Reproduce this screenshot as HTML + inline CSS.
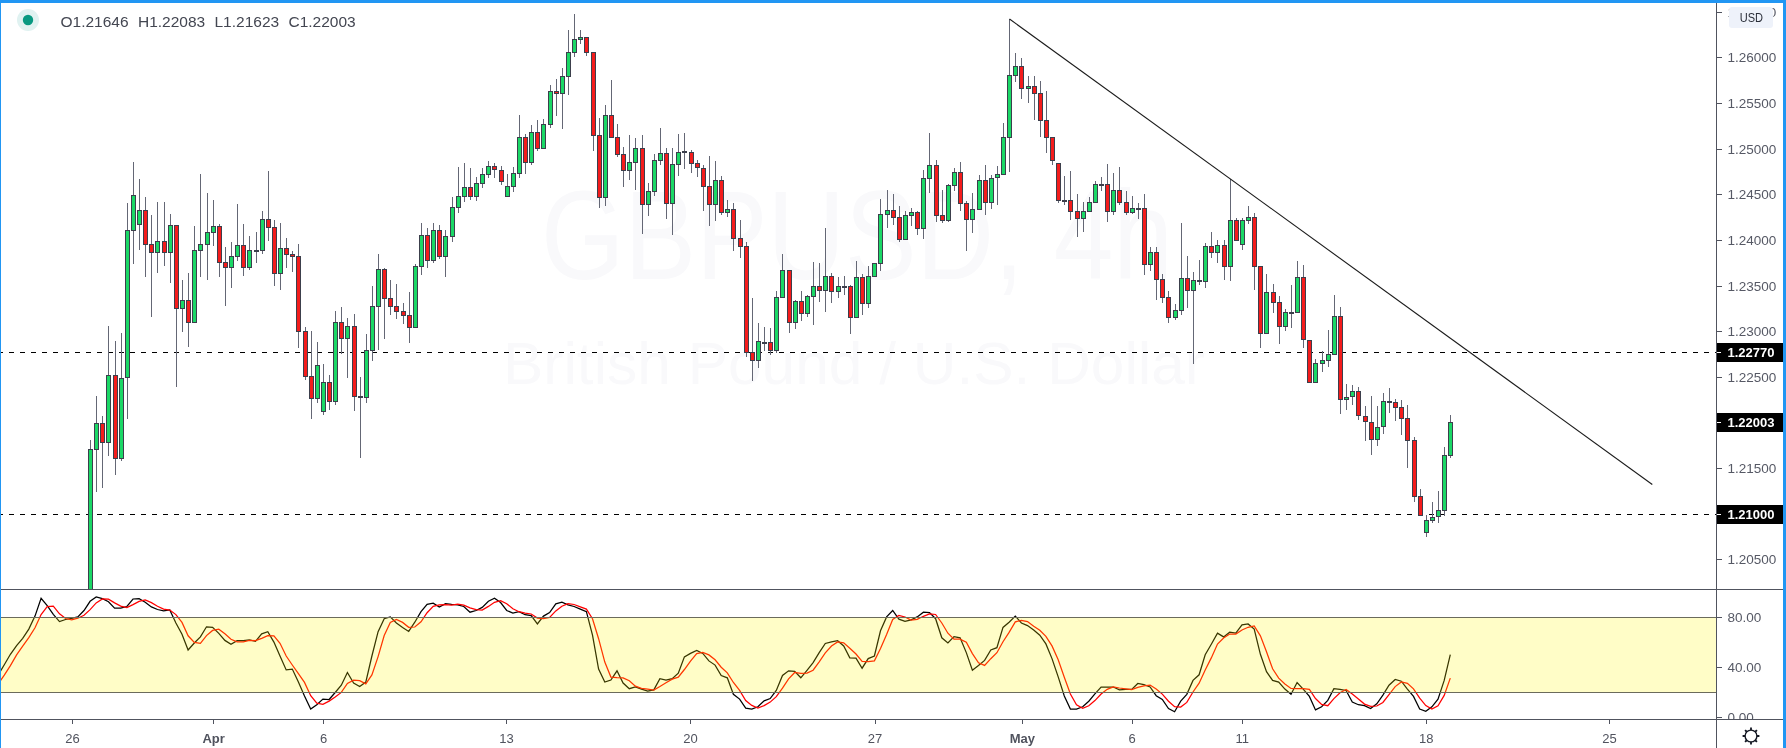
<!DOCTYPE html>
<html><head><meta charset="utf-8"><style>
html,body{margin:0;padding:0;background:#fff;}
body{width:1786px;height:748px;overflow:hidden;position:relative;}
svg{position:absolute;left:0;top:0;will-change:transform;}
text{font-family:"Liberation Sans",sans-serif;}
</style></head><body>
<svg width="1786" height="748" viewBox="0 0 1786 748">
<defs>
<clipPath id="cm"><rect x="1" y="3" width="1715" height="586"/></clipPath>
<clipPath id="ci"><rect x="1" y="590" width="1715" height="129"/></clipPath>
<clipPath id="cpa"><rect x="1717" y="3" width="66" height="586"/></clipPath>
<clipPath id="cpi"><rect x="1717" y="590" width="66" height="129"/></clipPath>
</defs>
<rect x="0" y="0" width="1786" height="748" fill="#ffffff"/>

<g clip-path="url(#cm)">
<text x="541" y="279" font-size="126" fill="#f9f9fb" textLength="632" lengthAdjust="spacingAndGlyphs">GBPUSD, 4h</text>
<text x="503" y="384" font-size="60" fill="#f9f9fb" textLength="702" lengthAdjust="spacingAndGlyphs">British Pound / U.S. Dollar</text>
<path d="M-2 352.5h5M-2 514.5h5M9 352.5h5M9 514.5h5M20 352.5h5M20 514.5h5M31 352.5h5M31 514.5h5M42 352.5h5M42 514.5h5M53 352.5h5M53 514.5h5M64 352.5h5M64 514.5h5M75 352.5h5M75 514.5h5M86 352.5h5M86 514.5h5M97 352.5h5M97 514.5h5M108 352.5h5M108 514.5h5M119 352.5h5M119 514.5h5M130 352.5h5M130 514.5h5M141 352.5h5M141 514.5h5M152 352.5h5M152 514.5h5M163 352.5h5M163 514.5h5M174 352.5h5M174 514.5h5M185 352.5h5M185 514.5h5M196 352.5h5M196 514.5h5M207 352.5h5M207 514.5h5M218 352.5h5M218 514.5h5M229 352.5h5M229 514.5h5M240 352.5h5M240 514.5h5M251 352.5h5M251 514.5h5M262 352.5h5M262 514.5h5M273 352.5h5M273 514.5h5M284 352.5h5M284 514.5h5M295 352.5h5M295 514.5h5M306 352.5h5M306 514.5h5M317 352.5h5M317 514.5h5M328 352.5h5M328 514.5h5M339 352.5h5M339 514.5h5M350 352.5h5M350 514.5h5M361 352.5h5M361 514.5h5M372 352.5h5M372 514.5h5M383 352.5h5M383 514.5h5M394 352.5h5M394 514.5h5M405 352.5h5M405 514.5h5M416 352.5h5M416 514.5h5M427 352.5h5M427 514.5h5M438 352.5h5M438 514.5h5M449 352.5h5M449 514.5h5M460 352.5h5M460 514.5h5M471 352.5h5M471 514.5h5M482 352.5h5M482 514.5h5M493 352.5h5M493 514.5h5M504 352.5h5M504 514.5h5M515 352.5h5M515 514.5h5M526 352.5h5M526 514.5h5M537 352.5h5M537 514.5h5M548 352.5h5M548 514.5h5M559 352.5h5M559 514.5h5M570 352.5h5M570 514.5h5M581 352.5h5M581 514.5h5M592 352.5h5M592 514.5h5M603 352.5h5M603 514.5h5M614 352.5h5M614 514.5h5M625 352.5h5M625 514.5h5M636 352.5h5M636 514.5h5M647 352.5h5M647 514.5h5M658 352.5h5M658 514.5h5M669 352.5h5M669 514.5h5M680 352.5h5M680 514.5h5M691 352.5h5M691 514.5h5M702 352.5h5M702 514.5h5M713 352.5h5M713 514.5h5M724 352.5h5M724 514.5h5M735 352.5h5M735 514.5h5M746 352.5h5M746 514.5h5M757 352.5h5M757 514.5h5M768 352.5h5M768 514.5h5M779 352.5h5M779 514.5h5M790 352.5h5M790 514.5h5M801 352.5h5M801 514.5h5M812 352.5h5M812 514.5h5M823 352.5h5M823 514.5h5M835 352.5h5M835 514.5h5M846 352.5h5M846 514.5h5M857 352.5h5M857 514.5h5M868 352.5h5M868 514.5h5M879 352.5h5M879 514.5h5M890 352.5h5M890 514.5h5M901 352.5h5M901 514.5h5M912 352.5h5M912 514.5h5M923 352.5h5M923 514.5h5M934 352.5h5M934 514.5h5M945 352.5h5M945 514.5h5M956 352.5h5M956 514.5h5M967 352.5h5M967 514.5h5M978 352.5h5M978 514.5h5M989 352.5h5M989 514.5h5M1000 352.5h5M1000 514.5h5M1011 352.5h5M1011 514.5h5M1022 352.5h5M1022 514.5h5M1033 352.5h5M1033 514.5h5M1044 352.5h5M1044 514.5h5M1055 352.5h5M1055 514.5h5M1066 352.5h5M1066 514.5h5M1077 352.5h5M1077 514.5h5M1088 352.5h5M1088 514.5h5M1099 352.5h5M1099 514.5h5M1110 352.5h5M1110 514.5h5M1121 352.5h5M1121 514.5h5M1132 352.5h5M1132 514.5h5M1143 352.5h5M1143 514.5h5M1154 352.5h5M1154 514.5h5M1165 352.5h5M1165 514.5h5M1176 352.5h5M1176 514.5h5M1187 352.5h5M1187 514.5h5M1198 352.5h5M1198 514.5h5M1209 352.5h5M1209 514.5h5M1220 352.5h5M1220 514.5h5M1231 352.5h5M1231 514.5h5M1242 352.5h5M1242 514.5h5M1253 352.5h5M1253 514.5h5M1264 352.5h5M1264 514.5h5M1275 352.5h5M1275 514.5h5M1286 352.5h5M1286 514.5h5M1297 352.5h5M1297 514.5h5M1308 352.5h5M1308 514.5h5M1319 352.5h5M1319 514.5h5M1330 352.5h5M1330 514.5h5M1341 352.5h5M1341 514.5h5M1352 352.5h5M1352 514.5h5M1363 352.5h5M1363 514.5h5M1374 352.5h5M1374 514.5h5M1385 352.5h5M1385 514.5h5M1396 352.5h5M1396 514.5h5M1407 352.5h5M1407 514.5h5M1418 352.5h5M1418 514.5h5M1429 352.5h5M1429 514.5h5M1440 352.5h5M1440 514.5h5M1451 352.5h5M1451 514.5h5M1462 352.5h5M1462 514.5h5M1473 352.5h5M1473 514.5h5M1484 352.5h5M1484 514.5h5M1495 352.5h5M1495 514.5h5M1506 352.5h5M1506 514.5h5M1517 352.5h5M1517 514.5h5M1528 352.5h5M1528 514.5h5M1539 352.5h5M1539 514.5h5M1550 352.5h5M1550 514.5h5M1561 352.5h5M1561 514.5h5M1572 352.5h5M1572 514.5h5M1583 352.5h5M1583 514.5h5M1594 352.5h5M1594 514.5h5M1605 352.5h5M1605 514.5h5M1616 352.5h5M1616 514.5h5M1627 352.5h5M1627 514.5h5M1638 352.5h5M1638 514.5h5M1649 352.5h5M1649 514.5h5M1660 352.5h5M1660 514.5h5M1671 352.5h5M1671 514.5h5M1682 352.5h5M1682 514.5h5M1693 352.5h5M1693 514.5h5M1704 352.5h5M1704 514.5h5M1715 352.5h5M1715 514.5h5M1726 352.5h5M1726 514.5h5M1737 352.5h5M1737 514.5h5M1748 352.5h5M1748 514.5h5M1759 352.5h5M1759 514.5h5" stroke="#000" stroke-width="1" fill="none"/>
<path d="M90.5 440V601M96.5 396V492M102.5 416V488M108.5 326V456M115.5 341V475M121.5 333V461M127.5 203V419M133.5 162V264M139.5 179V250M145.5 197V277M151.5 215V317M157.5 202V273M164.5 202V266M170.5 214V283M176.5 225V387M182.5 280V332M188.5 273V347M194.5 226V277M200.5 174V277M207.5 193V280M213.5 200V246M219.5 224V277M225.5 247V306M231.5 242V288M237.5 204V261M243.5 224V276M249.5 236V270M256.5 232V263M262.5 211V254M268.5 171V241M274.5 220V286M280.5 223V290M286.5 238V268M292.5 251V272M298.5 244V348M305.5 327V380M311.5 331V419M317.5 342V403M323.5 364V415M329.5 375V410M335.5 311V405M341.5 307V354M347.5 318V378M354.5 314V411M360.5 377V458M366.5 334V403M372.5 286V361M378.5 254V350M384.5 268V339M390.5 280V315M396.5 284V319M403.5 303V324M409.5 292V343M415.5 264V328M421.5 223V275M427.5 228V268M433.5 223V263M439.5 225V259M445.5 230V277M452.5 197V242M458.5 167V213M464.5 163V202M470.5 168V200M476.5 177V201M482.5 168V188M488.5 161V178M494.5 163V178M501.5 166V185M507.5 174V197M513.5 167V192M519.5 115V178M525.5 134V174M531.5 125V165M537.5 120V151M543.5 119V149M550.5 85V128M556.5 79V116M562.5 68V129M568.5 30V95M574.5 14V57M580.5 30V44M586.5 37V56M593.5 52V151M599.5 118V208M605.5 105V206M611.5 80V138M617.5 124V157M623.5 147V187M629.5 135V180M635.5 138V190M642.5 135V234M648.5 183V216M654.5 154V196M660.5 128V165M666.5 148V219M672.5 148V235M678.5 134V176M684.5 133V169M691.5 150V173M697.5 160V177M703.5 165V211M709.5 156V226M715.5 161V221M721.5 176V215M727.5 200V217M733.5 203V251M740.5 220V258M746.5 242V357M752.5 298V381M758.5 323V368M764.5 327V351M770.5 328V355M776.5 291V353M782.5 254V298M789.5 270V333M795.5 300V329M801.5 291V321M807.5 295V317M813.5 262V325M819.5 263V302M825.5 228V312M831.5 273V303M838.5 277V298M844.5 276V295M850.5 285V334M856.5 261V318M862.5 274V315M868.5 266V308M874.5 263V277M880.5 199V271M887.5 190V228M893.5 194V225M899.5 206V242M905.5 211V240M911.5 208V226M917.5 211V235M923.5 170V239M929.5 133V193M936.5 160V222M942.5 190V223M948.5 184V222M954.5 168V191M960.5 162V211M966.5 201V251M972.5 193V233M979.5 175V210M985.5 165V215M991.5 175V209M997.5 166V205M1003.5 123V175M1009.5 19V172M1015.5 53V82M1021.5 58V99M1028.5 76V103M1034.5 76V120M1040.5 81V137M1046.5 91V153M1052.5 137V165M1058.5 163V203M1064.5 176V205M1070.5 171V220M1077.5 194V237M1083.5 202V232M1089.5 197V212M1095.5 181V203M1101.5 177V191M1107.5 164V222M1113.5 173V215M1119.5 167V205M1126.5 191V215M1132.5 196V214M1138.5 203V219M1144.5 194V275M1150.5 247V271M1156.5 247V300M1162.5 274V303M1168.5 291V323M1175.5 304V320M1181.5 223V315M1187.5 256V308M1193.5 272V364M1199.5 260V285M1205.5 243V288M1211.5 232V258M1217.5 240V263M1224.5 240V280M1230.5 179V281M1236.5 218V241M1242.5 218V250M1248.5 206V224M1254.5 213V290M1260.5 266V348M1266.5 274V334M1273.5 284V313M1279.5 296V344M1285.5 309V331M1291.5 285V328M1297.5 261V313M1303.5 265V348M1309.5 340V383M1315.5 359V383M1322.5 351V372M1328.5 330V367M1334.5 295V355M1340.5 307V414M1346.5 384V410M1352.5 385V405M1358.5 387V420M1365.5 406V441M1371.5 396V455M1377.5 406V446M1383.5 393V434M1389.5 388V413M1395.5 399V421M1401.5 400V435M1407.5 405V468M1414.5 437V502M1420.5 489V516M1426.5 515V537M1432.5 502V523M1438.5 491V523M1444.5 447V516M1450.5 415V458" stroke="#646775" stroke-width="1" fill="none"/>
<rect x="88" y="449" width="5" height="152" fill="#3c3f4c"/>
<rect x="89" y="450" width="3" height="150" fill="#1bd866"/>
<rect x="94" y="423" width="5" height="27" fill="#3c3f4c"/>
<rect x="95" y="424" width="3" height="25" fill="#1bd866"/>
<rect x="100" y="423" width="5" height="20" fill="#3c3f4c"/>
<rect x="101" y="424" width="3" height="18" fill="#f41c1c"/>
<rect x="106" y="375" width="5" height="68" fill="#3c3f4c"/>
<rect x="107" y="376" width="3" height="66" fill="#1bd866"/>
<rect x="113" y="375" width="5" height="84" fill="#3c3f4c"/>
<rect x="114" y="376" width="3" height="82" fill="#f41c1c"/>
<rect x="119" y="378" width="5" height="81" fill="#3c3f4c"/>
<rect x="120" y="379" width="3" height="79" fill="#1bd866"/>
<rect x="125" y="230" width="5" height="148" fill="#3c3f4c"/>
<rect x="126" y="231" width="3" height="146" fill="#1bd866"/>
<rect x="131" y="195" width="5" height="36" fill="#3c3f4c"/>
<rect x="132" y="196" width="3" height="34" fill="#1bd866"/>
<rect x="137" y="210" width="5" height="15" fill="#3c3f4c"/>
<rect x="138" y="211" width="3" height="13" fill="#1bd866"/>
<rect x="143" y="210" width="5" height="35" fill="#3c3f4c"/>
<rect x="144" y="211" width="3" height="33" fill="#f41c1c"/>
<rect x="149" y="244" width="5" height="9" fill="#3c3f4c"/>
<rect x="150" y="245" width="3" height="7" fill="#f41c1c"/>
<rect x="155" y="241" width="5" height="12" fill="#3c3f4c"/>
<rect x="156" y="242" width="3" height="10" fill="#1bd866"/>
<rect x="162" y="241" width="5" height="12" fill="#3c3f4c"/>
<rect x="163" y="242" width="3" height="10" fill="#f41c1c"/>
<rect x="168" y="225" width="5" height="28" fill="#3c3f4c"/>
<rect x="169" y="226" width="3" height="26" fill="#1bd866"/>
<rect x="174" y="225" width="5" height="84" fill="#3c3f4c"/>
<rect x="175" y="226" width="3" height="82" fill="#f41c1c"/>
<rect x="180" y="300" width="5" height="9" fill="#3c3f4c"/>
<rect x="181" y="301" width="3" height="7" fill="#1bd866"/>
<rect x="186" y="300" width="5" height="23" fill="#3c3f4c"/>
<rect x="187" y="301" width="3" height="21" fill="#f41c1c"/>
<rect x="192" y="250" width="5" height="73" fill="#3c3f4c"/>
<rect x="193" y="251" width="3" height="71" fill="#1bd866"/>
<rect x="198" y="244" width="5" height="7" fill="#3c3f4c"/>
<rect x="199" y="245" width="3" height="5" fill="#1bd866"/>
<rect x="205" y="232" width="5" height="13" fill="#3c3f4c"/>
<rect x="206" y="233" width="3" height="11" fill="#1bd866"/>
<rect x="211" y="226" width="5" height="7" fill="#3c3f4c"/>
<rect x="212" y="227" width="3" height="5" fill="#1bd866"/>
<rect x="217" y="226" width="5" height="37" fill="#3c3f4c"/>
<rect x="218" y="227" width="3" height="35" fill="#f41c1c"/>
<rect x="223" y="262" width="5" height="6" fill="#3c3f4c"/>
<rect x="224" y="263" width="3" height="4" fill="#f41c1c"/>
<rect x="229" y="256" width="5" height="12" fill="#3c3f4c"/>
<rect x="230" y="257" width="3" height="10" fill="#1bd866"/>
<rect x="235" y="245" width="5" height="12" fill="#3c3f4c"/>
<rect x="236" y="246" width="3" height="10" fill="#1bd866"/>
<rect x="241" y="245" width="5" height="23" fill="#3c3f4c"/>
<rect x="242" y="246" width="3" height="21" fill="#f41c1c"/>
<rect x="247" y="250" width="5" height="18" fill="#3c3f4c"/>
<rect x="248" y="251" width="3" height="16" fill="#1bd866"/>
<rect x="254" y="250" width="5" height="2" fill="#3c3f4c"/>
<rect x="260" y="219" width="5" height="32" fill="#3c3f4c"/>
<rect x="261" y="220" width="3" height="30" fill="#1bd866"/>
<rect x="266" y="219" width="5" height="9" fill="#3c3f4c"/>
<rect x="267" y="220" width="3" height="7" fill="#f41c1c"/>
<rect x="272" y="227" width="5" height="47" fill="#3c3f4c"/>
<rect x="273" y="228" width="3" height="45" fill="#f41c1c"/>
<rect x="278" y="248" width="5" height="26" fill="#3c3f4c"/>
<rect x="279" y="249" width="3" height="24" fill="#1bd866"/>
<rect x="284" y="248" width="5" height="7" fill="#3c3f4c"/>
<rect x="285" y="249" width="3" height="5" fill="#f41c1c"/>
<rect x="290" y="254" width="5" height="3" fill="#3c3f4c"/>
<rect x="291" y="255" width="3" height="1" fill="#f41c1c"/>
<rect x="296" y="256" width="5" height="76" fill="#3c3f4c"/>
<rect x="297" y="257" width="3" height="74" fill="#f41c1c"/>
<rect x="303" y="331" width="5" height="46" fill="#3c3f4c"/>
<rect x="304" y="332" width="3" height="44" fill="#f41c1c"/>
<rect x="309" y="376" width="5" height="23" fill="#3c3f4c"/>
<rect x="310" y="377" width="3" height="21" fill="#f41c1c"/>
<rect x="315" y="365" width="5" height="34" fill="#3c3f4c"/>
<rect x="316" y="366" width="3" height="32" fill="#1bd866"/>
<rect x="321" y="382" width="5" height="30" fill="#3c3f4c"/>
<rect x="322" y="383" width="3" height="28" fill="#1bd866"/>
<rect x="327" y="382" width="5" height="20" fill="#3c3f4c"/>
<rect x="328" y="383" width="3" height="18" fill="#f41c1c"/>
<rect x="333" y="322" width="5" height="80" fill="#3c3f4c"/>
<rect x="334" y="323" width="3" height="78" fill="#1bd866"/>
<rect x="339" y="322" width="5" height="17" fill="#3c3f4c"/>
<rect x="340" y="323" width="3" height="15" fill="#f41c1c"/>
<rect x="345" y="326" width="5" height="13" fill="#3c3f4c"/>
<rect x="346" y="327" width="3" height="11" fill="#1bd866"/>
<rect x="352" y="326" width="5" height="71" fill="#3c3f4c"/>
<rect x="353" y="327" width="3" height="69" fill="#f41c1c"/>
<rect x="358" y="396" width="5" height="2" fill="#3c3f4c"/>
<rect x="364" y="350" width="5" height="48" fill="#3c3f4c"/>
<rect x="365" y="351" width="3" height="46" fill="#1bd866"/>
<rect x="370" y="306" width="5" height="45" fill="#3c3f4c"/>
<rect x="371" y="307" width="3" height="43" fill="#1bd866"/>
<rect x="376" y="269" width="5" height="38" fill="#3c3f4c"/>
<rect x="377" y="270" width="3" height="36" fill="#1bd866"/>
<rect x="382" y="269" width="5" height="30" fill="#3c3f4c"/>
<rect x="383" y="270" width="3" height="28" fill="#f41c1c"/>
<rect x="388" y="298" width="5" height="9" fill="#3c3f4c"/>
<rect x="389" y="299" width="3" height="7" fill="#f41c1c"/>
<rect x="394" y="306" width="5" height="6" fill="#3c3f4c"/>
<rect x="395" y="307" width="3" height="4" fill="#f41c1c"/>
<rect x="401" y="311" width="5" height="5" fill="#3c3f4c"/>
<rect x="402" y="312" width="3" height="3" fill="#f41c1c"/>
<rect x="407" y="315" width="5" height="13" fill="#3c3f4c"/>
<rect x="408" y="316" width="3" height="11" fill="#f41c1c"/>
<rect x="413" y="266" width="5" height="62" fill="#3c3f4c"/>
<rect x="414" y="267" width="3" height="60" fill="#1bd866"/>
<rect x="419" y="235" width="5" height="32" fill="#3c3f4c"/>
<rect x="420" y="236" width="3" height="30" fill="#1bd866"/>
<rect x="425" y="235" width="5" height="26" fill="#3c3f4c"/>
<rect x="426" y="236" width="3" height="24" fill="#f41c1c"/>
<rect x="431" y="230" width="5" height="31" fill="#3c3f4c"/>
<rect x="432" y="231" width="3" height="29" fill="#1bd866"/>
<rect x="437" y="230" width="5" height="27" fill="#3c3f4c"/>
<rect x="438" y="231" width="3" height="25" fill="#f41c1c"/>
<rect x="443" y="236" width="5" height="21" fill="#3c3f4c"/>
<rect x="444" y="237" width="3" height="19" fill="#1bd866"/>
<rect x="450" y="207" width="5" height="30" fill="#3c3f4c"/>
<rect x="451" y="208" width="3" height="28" fill="#1bd866"/>
<rect x="456" y="196" width="5" height="12" fill="#3c3f4c"/>
<rect x="457" y="197" width="3" height="10" fill="#1bd866"/>
<rect x="462" y="187" width="5" height="10" fill="#3c3f4c"/>
<rect x="463" y="188" width="3" height="8" fill="#1bd866"/>
<rect x="468" y="187" width="5" height="10" fill="#3c3f4c"/>
<rect x="469" y="188" width="3" height="8" fill="#f41c1c"/>
<rect x="474" y="183" width="5" height="14" fill="#3c3f4c"/>
<rect x="475" y="184" width="3" height="12" fill="#1bd866"/>
<rect x="480" y="174" width="5" height="10" fill="#3c3f4c"/>
<rect x="481" y="175" width="3" height="8" fill="#1bd866"/>
<rect x="486" y="166" width="5" height="9" fill="#3c3f4c"/>
<rect x="487" y="167" width="3" height="7" fill="#1bd866"/>
<rect x="492" y="166" width="5" height="4" fill="#3c3f4c"/>
<rect x="493" y="167" width="3" height="2" fill="#f41c1c"/>
<rect x="499" y="170" width="5" height="12" fill="#3c3f4c"/>
<rect x="500" y="171" width="3" height="10" fill="#f41c1c"/>
<rect x="505" y="186" width="5" height="11" fill="#3c3f4c"/>
<rect x="506" y="187" width="3" height="9" fill="#1bd866"/>
<rect x="511" y="173" width="5" height="14" fill="#3c3f4c"/>
<rect x="512" y="174" width="3" height="12" fill="#1bd866"/>
<rect x="517" y="137" width="5" height="37" fill="#3c3f4c"/>
<rect x="518" y="138" width="3" height="35" fill="#1bd866"/>
<rect x="523" y="137" width="5" height="26" fill="#3c3f4c"/>
<rect x="524" y="138" width="3" height="24" fill="#f41c1c"/>
<rect x="529" y="132" width="5" height="31" fill="#3c3f4c"/>
<rect x="530" y="133" width="3" height="29" fill="#1bd866"/>
<rect x="535" y="132" width="5" height="17" fill="#3c3f4c"/>
<rect x="536" y="133" width="3" height="15" fill="#f41c1c"/>
<rect x="541" y="124" width="5" height="25" fill="#3c3f4c"/>
<rect x="542" y="125" width="3" height="23" fill="#1bd866"/>
<rect x="548" y="91" width="5" height="34" fill="#3c3f4c"/>
<rect x="549" y="92" width="3" height="32" fill="#1bd866"/>
<rect x="554" y="91" width="5" height="3" fill="#3c3f4c"/>
<rect x="555" y="92" width="3" height="1" fill="#f41c1c"/>
<rect x="560" y="76" width="5" height="18" fill="#3c3f4c"/>
<rect x="561" y="77" width="3" height="16" fill="#1bd866"/>
<rect x="566" y="52" width="5" height="25" fill="#3c3f4c"/>
<rect x="567" y="53" width="3" height="23" fill="#1bd866"/>
<rect x="572" y="39" width="5" height="14" fill="#3c3f4c"/>
<rect x="573" y="40" width="3" height="12" fill="#1bd866"/>
<rect x="578" y="37" width="5" height="3" fill="#3c3f4c"/>
<rect x="579" y="38" width="3" height="1" fill="#1bd866"/>
<rect x="584" y="37" width="5" height="16" fill="#3c3f4c"/>
<rect x="585" y="38" width="3" height="14" fill="#f41c1c"/>
<rect x="591" y="52" width="5" height="84" fill="#3c3f4c"/>
<rect x="592" y="53" width="3" height="82" fill="#f41c1c"/>
<rect x="597" y="135" width="5" height="63" fill="#3c3f4c"/>
<rect x="598" y="136" width="3" height="61" fill="#f41c1c"/>
<rect x="603" y="115" width="5" height="83" fill="#3c3f4c"/>
<rect x="604" y="116" width="3" height="81" fill="#1bd866"/>
<rect x="609" y="115" width="5" height="23" fill="#3c3f4c"/>
<rect x="610" y="116" width="3" height="21" fill="#f41c1c"/>
<rect x="615" y="137" width="5" height="18" fill="#3c3f4c"/>
<rect x="616" y="138" width="3" height="16" fill="#f41c1c"/>
<rect x="621" y="154" width="5" height="17" fill="#3c3f4c"/>
<rect x="622" y="155" width="3" height="15" fill="#f41c1c"/>
<rect x="627" y="162" width="5" height="9" fill="#3c3f4c"/>
<rect x="628" y="163" width="3" height="7" fill="#1bd866"/>
<rect x="633" y="148" width="5" height="15" fill="#3c3f4c"/>
<rect x="634" y="149" width="3" height="13" fill="#1bd866"/>
<rect x="640" y="148" width="5" height="57" fill="#3c3f4c"/>
<rect x="641" y="149" width="3" height="55" fill="#f41c1c"/>
<rect x="646" y="191" width="5" height="14" fill="#3c3f4c"/>
<rect x="647" y="192" width="3" height="12" fill="#1bd866"/>
<rect x="652" y="160" width="5" height="32" fill="#3c3f4c"/>
<rect x="653" y="161" width="3" height="30" fill="#1bd866"/>
<rect x="658" y="153" width="5" height="8" fill="#3c3f4c"/>
<rect x="659" y="154" width="3" height="6" fill="#1bd866"/>
<rect x="664" y="153" width="5" height="51" fill="#3c3f4c"/>
<rect x="665" y="154" width="3" height="49" fill="#f41c1c"/>
<rect x="670" y="164" width="5" height="40" fill="#3c3f4c"/>
<rect x="671" y="165" width="3" height="38" fill="#1bd866"/>
<rect x="676" y="152" width="5" height="13" fill="#3c3f4c"/>
<rect x="677" y="153" width="3" height="11" fill="#1bd866"/>
<rect x="682" y="151" width="5" height="2" fill="#3c3f4c"/>
<rect x="689" y="152" width="5" height="12" fill="#3c3f4c"/>
<rect x="690" y="153" width="3" height="10" fill="#f41c1c"/>
<rect x="695" y="163" width="5" height="5" fill="#3c3f4c"/>
<rect x="696" y="164" width="3" height="3" fill="#f41c1c"/>
<rect x="701" y="168" width="5" height="19" fill="#3c3f4c"/>
<rect x="702" y="169" width="3" height="17" fill="#f41c1c"/>
<rect x="707" y="186" width="5" height="19" fill="#3c3f4c"/>
<rect x="708" y="187" width="3" height="17" fill="#f41c1c"/>
<rect x="713" y="180" width="5" height="25" fill="#3c3f4c"/>
<rect x="714" y="181" width="3" height="23" fill="#1bd866"/>
<rect x="719" y="180" width="5" height="33" fill="#3c3f4c"/>
<rect x="720" y="181" width="3" height="31" fill="#f41c1c"/>
<rect x="725" y="209" width="5" height="4" fill="#3c3f4c"/>
<rect x="726" y="210" width="3" height="2" fill="#1bd866"/>
<rect x="731" y="209" width="5" height="30" fill="#3c3f4c"/>
<rect x="732" y="210" width="3" height="28" fill="#f41c1c"/>
<rect x="738" y="238" width="5" height="9" fill="#3c3f4c"/>
<rect x="739" y="239" width="3" height="7" fill="#f41c1c"/>
<rect x="744" y="246" width="5" height="107" fill="#3c3f4c"/>
<rect x="745" y="247" width="3" height="105" fill="#f41c1c"/>
<rect x="750" y="352" width="5" height="9" fill="#3c3f4c"/>
<rect x="751" y="353" width="3" height="7" fill="#f41c1c"/>
<rect x="756" y="341" width="5" height="20" fill="#3c3f4c"/>
<rect x="757" y="342" width="3" height="18" fill="#1bd866"/>
<rect x="762" y="342" width="5" height="2" fill="#3c3f4c"/>
<rect x="768" y="342" width="5" height="9" fill="#3c3f4c"/>
<rect x="769" y="343" width="3" height="7" fill="#f41c1c"/>
<rect x="774" y="297" width="5" height="54" fill="#3c3f4c"/>
<rect x="775" y="298" width="3" height="52" fill="#1bd866"/>
<rect x="780" y="270" width="5" height="28" fill="#3c3f4c"/>
<rect x="781" y="271" width="3" height="26" fill="#1bd866"/>
<rect x="787" y="270" width="5" height="53" fill="#3c3f4c"/>
<rect x="788" y="271" width="3" height="51" fill="#f41c1c"/>
<rect x="793" y="301" width="5" height="22" fill="#3c3f4c"/>
<rect x="794" y="302" width="3" height="20" fill="#1bd866"/>
<rect x="799" y="301" width="5" height="13" fill="#3c3f4c"/>
<rect x="800" y="302" width="3" height="11" fill="#f41c1c"/>
<rect x="805" y="296" width="5" height="18" fill="#3c3f4c"/>
<rect x="806" y="297" width="3" height="16" fill="#1bd866"/>
<rect x="811" y="286" width="5" height="11" fill="#3c3f4c"/>
<rect x="812" y="287" width="3" height="9" fill="#1bd866"/>
<rect x="817" y="286" width="5" height="5" fill="#3c3f4c"/>
<rect x="818" y="287" width="3" height="3" fill="#f41c1c"/>
<rect x="823" y="276" width="5" height="15" fill="#3c3f4c"/>
<rect x="824" y="277" width="3" height="13" fill="#1bd866"/>
<rect x="829" y="276" width="5" height="16" fill="#3c3f4c"/>
<rect x="830" y="277" width="3" height="14" fill="#f41c1c"/>
<rect x="836" y="286" width="5" height="6" fill="#3c3f4c"/>
<rect x="837" y="287" width="3" height="4" fill="#1bd866"/>
<rect x="842" y="286" width="5" height="2" fill="#3c3f4c"/>
<rect x="848" y="286" width="5" height="32" fill="#3c3f4c"/>
<rect x="849" y="287" width="3" height="30" fill="#f41c1c"/>
<rect x="854" y="277" width="5" height="41" fill="#3c3f4c"/>
<rect x="855" y="278" width="3" height="39" fill="#1bd866"/>
<rect x="860" y="277" width="5" height="27" fill="#3c3f4c"/>
<rect x="861" y="278" width="3" height="25" fill="#f41c1c"/>
<rect x="866" y="276" width="5" height="28" fill="#3c3f4c"/>
<rect x="867" y="277" width="3" height="26" fill="#1bd866"/>
<rect x="872" y="263" width="5" height="14" fill="#3c3f4c"/>
<rect x="873" y="264" width="3" height="12" fill="#1bd866"/>
<rect x="878" y="214" width="5" height="50" fill="#3c3f4c"/>
<rect x="879" y="215" width="3" height="48" fill="#1bd866"/>
<rect x="885" y="210" width="5" height="5" fill="#3c3f4c"/>
<rect x="886" y="211" width="3" height="3" fill="#1bd866"/>
<rect x="891" y="210" width="5" height="8" fill="#3c3f4c"/>
<rect x="892" y="211" width="3" height="6" fill="#f41c1c"/>
<rect x="897" y="217" width="5" height="23" fill="#3c3f4c"/>
<rect x="898" y="218" width="3" height="21" fill="#f41c1c"/>
<rect x="903" y="215" width="5" height="25" fill="#3c3f4c"/>
<rect x="904" y="216" width="3" height="23" fill="#1bd866"/>
<rect x="909" y="212" width="5" height="4" fill="#3c3f4c"/>
<rect x="910" y="213" width="3" height="2" fill="#1bd866"/>
<rect x="915" y="212" width="5" height="17" fill="#3c3f4c"/>
<rect x="916" y="213" width="3" height="15" fill="#f41c1c"/>
<rect x="921" y="178" width="5" height="51" fill="#3c3f4c"/>
<rect x="922" y="179" width="3" height="49" fill="#1bd866"/>
<rect x="927" y="165" width="5" height="14" fill="#3c3f4c"/>
<rect x="928" y="166" width="3" height="12" fill="#1bd866"/>
<rect x="934" y="165" width="5" height="51" fill="#3c3f4c"/>
<rect x="935" y="166" width="3" height="49" fill="#f41c1c"/>
<rect x="940" y="215" width="5" height="6" fill="#3c3f4c"/>
<rect x="941" y="216" width="3" height="4" fill="#f41c1c"/>
<rect x="946" y="185" width="5" height="36" fill="#3c3f4c"/>
<rect x="947" y="186" width="3" height="34" fill="#1bd866"/>
<rect x="952" y="172" width="5" height="14" fill="#3c3f4c"/>
<rect x="953" y="173" width="3" height="12" fill="#1bd866"/>
<rect x="958" y="172" width="5" height="32" fill="#3c3f4c"/>
<rect x="959" y="173" width="3" height="30" fill="#f41c1c"/>
<rect x="964" y="203" width="5" height="17" fill="#3c3f4c"/>
<rect x="965" y="204" width="3" height="15" fill="#f41c1c"/>
<rect x="970" y="209" width="5" height="11" fill="#3c3f4c"/>
<rect x="971" y="210" width="3" height="9" fill="#1bd866"/>
<rect x="977" y="180" width="5" height="30" fill="#3c3f4c"/>
<rect x="978" y="181" width="3" height="28" fill="#1bd866"/>
<rect x="983" y="180" width="5" height="23" fill="#3c3f4c"/>
<rect x="984" y="181" width="3" height="21" fill="#f41c1c"/>
<rect x="989" y="178" width="5" height="25" fill="#3c3f4c"/>
<rect x="990" y="179" width="3" height="23" fill="#1bd866"/>
<rect x="995" y="174" width="5" height="4" fill="#3c3f4c"/>
<rect x="996" y="175" width="3" height="2" fill="#1bd866"/>
<rect x="1001" y="137" width="5" height="38" fill="#3c3f4c"/>
<rect x="1002" y="138" width="3" height="36" fill="#1bd866"/>
<rect x="1007" y="75" width="5" height="63" fill="#3c3f4c"/>
<rect x="1008" y="76" width="3" height="61" fill="#1bd866"/>
<rect x="1013" y="66" width="5" height="10" fill="#3c3f4c"/>
<rect x="1014" y="67" width="3" height="8" fill="#1bd866"/>
<rect x="1019" y="66" width="5" height="23" fill="#3c3f4c"/>
<rect x="1020" y="67" width="3" height="21" fill="#f41c1c"/>
<rect x="1026" y="86" width="5" height="3" fill="#3c3f4c"/>
<rect x="1027" y="87" width="3" height="1" fill="#1bd866"/>
<rect x="1032" y="86" width="5" height="8" fill="#3c3f4c"/>
<rect x="1033" y="87" width="3" height="6" fill="#f41c1c"/>
<rect x="1038" y="93" width="5" height="28" fill="#3c3f4c"/>
<rect x="1039" y="94" width="3" height="26" fill="#f41c1c"/>
<rect x="1044" y="120" width="5" height="18" fill="#3c3f4c"/>
<rect x="1045" y="121" width="3" height="16" fill="#f41c1c"/>
<rect x="1050" y="137" width="5" height="24" fill="#3c3f4c"/>
<rect x="1051" y="138" width="3" height="22" fill="#f41c1c"/>
<rect x="1056" y="163" width="5" height="38" fill="#3c3f4c"/>
<rect x="1057" y="164" width="3" height="36" fill="#f41c1c"/>
<rect x="1062" y="200" width="5" height="2" fill="#3c3f4c"/>
<rect x="1068" y="200" width="5" height="12" fill="#3c3f4c"/>
<rect x="1069" y="201" width="3" height="10" fill="#f41c1c"/>
<rect x="1075" y="211" width="5" height="8" fill="#3c3f4c"/>
<rect x="1076" y="212" width="3" height="6" fill="#f41c1c"/>
<rect x="1081" y="211" width="5" height="8" fill="#3c3f4c"/>
<rect x="1082" y="212" width="3" height="6" fill="#1bd866"/>
<rect x="1087" y="202" width="5" height="10" fill="#3c3f4c"/>
<rect x="1088" y="203" width="3" height="8" fill="#1bd866"/>
<rect x="1093" y="184" width="5" height="19" fill="#3c3f4c"/>
<rect x="1094" y="185" width="3" height="17" fill="#1bd866"/>
<rect x="1099" y="184" width="5" height="2" fill="#3c3f4c"/>
<rect x="1105" y="184" width="5" height="28" fill="#3c3f4c"/>
<rect x="1106" y="185" width="3" height="26" fill="#f41c1c"/>
<rect x="1111" y="190" width="5" height="22" fill="#3c3f4c"/>
<rect x="1112" y="191" width="3" height="20" fill="#1bd866"/>
<rect x="1117" y="190" width="5" height="13" fill="#3c3f4c"/>
<rect x="1118" y="191" width="3" height="11" fill="#f41c1c"/>
<rect x="1124" y="202" width="5" height="11" fill="#3c3f4c"/>
<rect x="1125" y="203" width="3" height="9" fill="#f41c1c"/>
<rect x="1130" y="208" width="5" height="5" fill="#3c3f4c"/>
<rect x="1131" y="209" width="3" height="3" fill="#1bd866"/>
<rect x="1136" y="208" width="5" height="2" fill="#3c3f4c"/>
<rect x="1142" y="208" width="5" height="57" fill="#3c3f4c"/>
<rect x="1143" y="209" width="3" height="55" fill="#f41c1c"/>
<rect x="1148" y="252" width="5" height="13" fill="#3c3f4c"/>
<rect x="1149" y="253" width="3" height="11" fill="#1bd866"/>
<rect x="1154" y="252" width="5" height="28" fill="#3c3f4c"/>
<rect x="1155" y="253" width="3" height="26" fill="#f41c1c"/>
<rect x="1160" y="279" width="5" height="19" fill="#3c3f4c"/>
<rect x="1161" y="280" width="3" height="17" fill="#f41c1c"/>
<rect x="1166" y="297" width="5" height="21" fill="#3c3f4c"/>
<rect x="1167" y="298" width="3" height="19" fill="#f41c1c"/>
<rect x="1173" y="310" width="5" height="8" fill="#3c3f4c"/>
<rect x="1174" y="311" width="3" height="6" fill="#1bd866"/>
<rect x="1179" y="278" width="5" height="33" fill="#3c3f4c"/>
<rect x="1180" y="279" width="3" height="31" fill="#1bd866"/>
<rect x="1185" y="278" width="5" height="13" fill="#3c3f4c"/>
<rect x="1186" y="279" width="3" height="11" fill="#f41c1c"/>
<rect x="1191" y="280" width="5" height="11" fill="#3c3f4c"/>
<rect x="1192" y="281" width="3" height="9" fill="#1bd866"/>
<rect x="1197" y="280" width="5" height="2" fill="#3c3f4c"/>
<rect x="1203" y="246" width="5" height="36" fill="#3c3f4c"/>
<rect x="1204" y="247" width="3" height="34" fill="#1bd866"/>
<rect x="1209" y="246" width="5" height="7" fill="#3c3f4c"/>
<rect x="1210" y="247" width="3" height="5" fill="#f41c1c"/>
<rect x="1215" y="245" width="5" height="8" fill="#3c3f4c"/>
<rect x="1216" y="246" width="3" height="6" fill="#1bd866"/>
<rect x="1222" y="245" width="5" height="22" fill="#3c3f4c"/>
<rect x="1223" y="246" width="3" height="20" fill="#f41c1c"/>
<rect x="1228" y="220" width="5" height="47" fill="#3c3f4c"/>
<rect x="1229" y="221" width="3" height="45" fill="#1bd866"/>
<rect x="1234" y="220" width="5" height="21" fill="#3c3f4c"/>
<rect x="1235" y="221" width="3" height="19" fill="#f41c1c"/>
<rect x="1240" y="220" width="5" height="25" fill="#3c3f4c"/>
<rect x="1241" y="221" width="3" height="23" fill="#1bd866"/>
<rect x="1246" y="217" width="5" height="4" fill="#3c3f4c"/>
<rect x="1247" y="218" width="3" height="2" fill="#1bd866"/>
<rect x="1252" y="217" width="5" height="50" fill="#3c3f4c"/>
<rect x="1253" y="218" width="3" height="48" fill="#f41c1c"/>
<rect x="1258" y="266" width="5" height="68" fill="#3c3f4c"/>
<rect x="1259" y="267" width="3" height="66" fill="#f41c1c"/>
<rect x="1264" y="292" width="5" height="42" fill="#3c3f4c"/>
<rect x="1265" y="293" width="3" height="40" fill="#1bd866"/>
<rect x="1271" y="292" width="5" height="11" fill="#3c3f4c"/>
<rect x="1272" y="293" width="3" height="9" fill="#f41c1c"/>
<rect x="1277" y="302" width="5" height="25" fill="#3c3f4c"/>
<rect x="1278" y="303" width="3" height="23" fill="#f41c1c"/>
<rect x="1283" y="312" width="5" height="15" fill="#3c3f4c"/>
<rect x="1284" y="313" width="3" height="13" fill="#1bd866"/>
<rect x="1289" y="312" width="5" height="2" fill="#3c3f4c"/>
<rect x="1295" y="277" width="5" height="36" fill="#3c3f4c"/>
<rect x="1296" y="278" width="3" height="34" fill="#1bd866"/>
<rect x="1301" y="277" width="5" height="63" fill="#3c3f4c"/>
<rect x="1302" y="278" width="3" height="61" fill="#f41c1c"/>
<rect x="1307" y="340" width="5" height="43" fill="#3c3f4c"/>
<rect x="1308" y="341" width="3" height="41" fill="#f41c1c"/>
<rect x="1313" y="363" width="5" height="20" fill="#3c3f4c"/>
<rect x="1314" y="364" width="3" height="18" fill="#1bd866"/>
<rect x="1320" y="360" width="5" height="4" fill="#3c3f4c"/>
<rect x="1321" y="361" width="3" height="2" fill="#1bd866"/>
<rect x="1326" y="354" width="5" height="7" fill="#3c3f4c"/>
<rect x="1327" y="355" width="3" height="5" fill="#1bd866"/>
<rect x="1332" y="316" width="5" height="39" fill="#3c3f4c"/>
<rect x="1333" y="317" width="3" height="37" fill="#1bd866"/>
<rect x="1338" y="316" width="5" height="84" fill="#3c3f4c"/>
<rect x="1339" y="317" width="3" height="82" fill="#f41c1c"/>
<rect x="1344" y="397" width="5" height="3" fill="#3c3f4c"/>
<rect x="1345" y="398" width="3" height="1" fill="#1bd866"/>
<rect x="1350" y="391" width="5" height="6" fill="#3c3f4c"/>
<rect x="1351" y="392" width="3" height="4" fill="#1bd866"/>
<rect x="1356" y="391" width="5" height="25" fill="#3c3f4c"/>
<rect x="1357" y="392" width="3" height="23" fill="#f41c1c"/>
<rect x="1363" y="416" width="5" height="6" fill="#3c3f4c"/>
<rect x="1364" y="417" width="3" height="4" fill="#f41c1c"/>
<rect x="1369" y="422" width="5" height="18" fill="#3c3f4c"/>
<rect x="1370" y="423" width="3" height="16" fill="#f41c1c"/>
<rect x="1375" y="427" width="5" height="13" fill="#3c3f4c"/>
<rect x="1376" y="428" width="3" height="11" fill="#1bd866"/>
<rect x="1381" y="401" width="5" height="26" fill="#3c3f4c"/>
<rect x="1382" y="402" width="3" height="24" fill="#1bd866"/>
<rect x="1387" y="401" width="5" height="2" fill="#3c3f4c"/>
<rect x="1393" y="402" width="5" height="6" fill="#3c3f4c"/>
<rect x="1394" y="403" width="3" height="4" fill="#f41c1c"/>
<rect x="1399" y="407" width="5" height="12" fill="#3c3f4c"/>
<rect x="1400" y="408" width="3" height="10" fill="#f41c1c"/>
<rect x="1405" y="418" width="5" height="23" fill="#3c3f4c"/>
<rect x="1406" y="419" width="3" height="21" fill="#f41c1c"/>
<rect x="1412" y="440" width="5" height="57" fill="#3c3f4c"/>
<rect x="1413" y="441" width="3" height="55" fill="#f41c1c"/>
<rect x="1418" y="496" width="5" height="20" fill="#3c3f4c"/>
<rect x="1419" y="497" width="3" height="18" fill="#f41c1c"/>
<rect x="1424" y="520" width="5" height="13" fill="#3c3f4c"/>
<rect x="1425" y="521" width="3" height="11" fill="#1bd866"/>
<rect x="1430" y="517" width="5" height="4" fill="#3c3f4c"/>
<rect x="1431" y="518" width="3" height="2" fill="#1bd866"/>
<rect x="1436" y="510" width="5" height="7" fill="#3c3f4c"/>
<rect x="1437" y="511" width="3" height="5" fill="#1bd866"/>
<rect x="1442" y="455" width="5" height="56" fill="#3c3f4c"/>
<rect x="1443" y="456" width="3" height="54" fill="#1bd866"/>
<rect x="1448" y="422" width="5" height="34" fill="#3c3f4c"/>
<rect x="1449" y="423" width="3" height="32" fill="#1bd866"/>
<line x1="1009.5" y1="19" x2="1652.3" y2="484.5" stroke="#1a1a1a" stroke-width="1.1"/>
</g>
<g clip-path="url(#ci)">
<polyline points="-1.8,675.0 4.3,664.7 10.4,654.3 16.6,645.6 22.7,638.3 28.8,629.1 35.0,616.1 41.1,598.3 47.2,605.6 53.3,614.3 59.5,621.6 65.6,619.5 71.7,618.3 77.8,616.9 84.0,610.5 90.1,601.3 96.2,597.0 102.4,598.7 108.5,601.8 114.6,608.2 120.7,608.2 126.9,606.5 133.0,599.0 139.1,598.7 145.2,602.2 151.4,606.9 157.5,609.5 163.6,610.9 169.8,610.0 175.9,623.0 182.0,634.3 188.1,650.0 194.3,643.0 200.4,636.9 206.5,626.8 212.6,627.4 218.8,633.4 224.9,640.4 231.0,644.2 237.1,640.7 243.3,640.7 249.4,640.0 255.5,641.3 261.7,633.8 267.8,631.7 273.9,642.1 280.0,656.0 286.2,669.9 292.3,669.1 298.4,682.0 304.5,696.0 310.7,709.0 316.8,704.7 322.9,699.1 329.1,699.5 335.2,692.5 341.3,685.2 347.4,672.5 353.6,683.0 359.7,686.5 365.8,682.1 371.9,656.0 378.1,631.7 384.2,618.7 390.3,616.9 396.4,623.0 402.6,627.4 408.7,631.4 414.8,622.2 421.0,611.7 427.1,604.3 433.2,603.2 439.3,607.0 445.5,603.6 451.6,604.3 457.7,604.8 463.8,606.5 470.0,612.2 476.1,610.5 482.2,607.4 488.4,601.3 494.5,598.3 500.6,602.5 506.7,610.5 512.9,613.0 519.0,611.7 525.1,614.7 531.2,615.7 537.4,623.9 543.5,616.1 549.6,612.6 555.8,603.9 561.9,602.2 568.0,604.8 574.1,606.5 580.3,609.1 586.4,611.7 592.5,635.2 598.6,669.1 604.8,682.1 610.9,680.0 617.0,670.8 623.1,683.0 629.3,688.7 635.4,687.0 641.5,689.1 647.7,691.1 653.8,689.9 659.9,678.6 666.0,680.0 672.2,678.6 678.3,673.1 684.4,656.9 690.5,653.4 696.7,650.5 702.8,653.4 708.9,660.9 715.1,665.1 721.2,675.5 727.3,677.8 733.4,694.3 739.6,699.1 745.7,708.2 751.8,709.0 757.9,706.8 764.1,700.9 770.2,698.6 776.3,690.5 782.5,675.5 788.6,670.8 794.7,671.3 800.8,677.8 807.0,670.3 813.1,662.6 819.2,652.6 825.3,643.5 831.5,641.8 837.6,640.7 843.7,646.0 849.8,657.8 856.0,658.1 862.1,668.2 868.2,658.6 874.4,656.0 880.5,630.8 886.6,616.9 892.7,610.5 898.9,619.2 905.0,621.3 911.1,619.9 917.2,616.9 923.4,612.2 929.5,612.6 935.6,618.7 941.8,637.8 947.9,643.0 954.0,636.6 960.1,637.8 966.3,652.6 972.4,670.3 978.5,665.6 984.6,660.4 990.8,650.0 996.9,647.7 1003.0,627.4 1009.1,622.2 1015.3,616.1 1021.4,623.0 1027.5,625.6 1033.7,630.0 1039.8,635.2 1045.9,643.9 1052.0,658.6 1058.2,676.9 1064.3,696.0 1070.4,709.0 1076.5,709.0 1082.7,706.8 1088.8,701.2 1094.9,693.9 1101.1,687.0 1107.2,687.0 1113.3,687.0 1119.4,689.9 1125.6,689.4 1131.7,689.4 1137.8,683.5 1143.9,684.7 1150.1,687.0 1156.2,695.7 1162.3,699.5 1168.5,708.5 1174.6,711.7 1180.7,701.2 1186.8,694.3 1193.0,680.4 1199.1,674.8 1205.2,654.7 1211.3,644.2 1217.5,633.1 1223.6,636.9 1229.7,632.2 1235.8,633.1 1242.0,624.8 1248.1,623.9 1254.2,629.1 1260.4,654.3 1266.5,671.7 1272.6,680.4 1278.7,682.1 1284.9,689.1 1291.0,694.3 1297.1,682.5 1303.2,689.1 1309.4,696.4 1315.5,709.9 1321.6,706.8 1327.8,700.4 1333.9,688.7 1340.0,689.4 1346.1,690.5 1352.3,702.1 1358.4,704.7 1364.5,705.6 1370.6,708.5 1376.8,703.8 1382.9,695.1 1389.0,685.2 1395.2,679.5 1401.3,681.2 1407.4,689.1 1413.5,696.4 1419.7,709.0 1425.8,711.3 1431.9,706.8 1438.0,699.1 1444.2,680.4 1450.3,654.7" fill="none" stroke="#000" stroke-width="1.25" stroke-linejoin="miter"/>
<polyline points="-1.8,684.0 4.3,675.2 10.4,665.6 16.6,654.9 22.7,646.1 28.8,637.7 35.0,627.8 41.1,614.5 47.2,606.7 53.3,606.1 59.5,613.8 65.6,618.5 71.7,619.8 77.8,618.2 84.0,615.2 90.1,609.6 96.2,602.9 102.4,599.0 108.5,599.2 114.6,602.9 120.7,606.1 126.9,607.6 133.0,604.6 139.1,601.4 145.2,600.0 151.4,602.6 157.5,606.2 163.6,609.1 169.8,610.1 175.9,614.6 182.0,622.4 188.1,635.8 194.3,642.4 200.4,643.3 206.5,635.6 212.6,630.4 218.8,629.2 224.9,633.7 231.0,639.3 237.1,641.8 243.3,641.9 249.4,640.5 255.5,640.7 261.7,638.4 267.8,635.6 273.9,635.9 280.0,643.3 286.2,656.0 292.3,665.0 298.4,673.7 304.5,682.4 310.7,695.7 316.8,703.2 322.9,704.3 329.1,701.1 335.2,697.0 341.3,692.4 347.4,683.4 353.6,680.2 359.7,680.7 365.8,683.9 371.9,674.9 378.1,656.6 384.2,635.5 390.3,622.4 396.4,619.5 402.6,622.4 408.7,627.3 414.8,627.0 421.0,621.8 427.1,612.7 433.2,606.4 439.3,604.8 445.5,604.6 451.6,605.0 457.7,604.2 463.8,605.2 470.0,607.8 476.1,609.7 482.2,610.0 488.4,606.4 494.5,602.3 500.6,600.7 506.7,603.8 512.9,608.7 519.0,611.7 525.1,613.1 531.2,614.0 537.4,618.1 543.5,618.6 549.6,617.5 555.8,610.9 561.9,606.2 568.0,603.6 574.1,604.5 580.3,606.8 586.4,609.1 592.5,618.7 598.6,638.7 604.8,662.1 610.9,677.1 617.0,677.6 623.1,677.9 629.3,680.8 635.4,686.2 641.5,688.3 647.7,689.1 653.8,690.0 659.9,686.5 666.0,682.8 672.2,679.1 678.3,677.2 684.4,669.5 690.5,661.1 696.7,653.6 702.8,652.4 708.9,654.9 715.1,659.8 721.2,667.2 727.3,672.8 733.4,682.5 739.6,690.4 745.7,700.5 751.8,705.4 757.9,708.0 764.1,705.6 770.2,702.1 776.3,696.7 782.5,688.2 788.6,678.9 794.7,672.5 800.8,673.3 807.0,673.1 813.1,670.2 819.2,661.8 825.3,652.9 831.5,646.0 837.6,642.0 843.7,642.8 849.8,648.2 856.0,654.0 862.1,661.4 868.2,661.6 874.4,660.9 880.5,648.5 886.6,634.6 892.7,619.4 898.9,615.5 905.0,617.0 911.1,620.1 917.2,619.4 923.4,616.3 929.5,613.9 935.6,614.5 941.8,623.0 947.9,633.2 954.0,639.1 960.1,639.1 966.3,642.3 972.4,653.6 978.5,662.8 984.6,665.4 990.8,658.7 996.9,652.7 1003.0,641.7 1009.1,632.4 1015.3,621.9 1021.4,620.4 1027.5,621.6 1033.7,626.2 1039.8,630.3 1045.9,636.4 1052.0,645.9 1058.2,659.8 1064.3,677.2 1070.4,694.0 1076.5,704.7 1082.7,708.3 1088.8,705.7 1094.9,700.6 1101.1,694.0 1107.2,689.3 1113.3,687.0 1119.4,688.0 1125.6,688.8 1131.7,689.6 1137.8,687.4 1143.9,685.9 1150.1,685.1 1156.2,689.1 1162.3,694.1 1168.5,701.2 1174.6,706.6 1180.7,707.1 1186.8,702.4 1193.0,692.0 1199.1,683.2 1205.2,670.0 1211.3,657.9 1217.5,644.0 1223.6,638.1 1229.7,634.1 1235.8,634.1 1242.0,630.0 1248.1,627.3 1254.2,625.9 1260.4,635.8 1266.5,651.7 1272.6,668.8 1278.7,678.1 1284.9,683.9 1291.0,688.5 1297.1,688.6 1303.2,688.6 1309.4,689.3 1315.5,698.5 1321.6,704.4 1327.8,705.7 1333.9,698.6 1340.0,692.8 1346.1,689.5 1352.3,694.0 1358.4,699.1 1364.5,704.1 1370.6,706.3 1376.8,706.0 1382.9,702.5 1389.0,694.7 1395.2,686.6 1401.3,682.0 1407.4,683.3 1413.5,688.9 1419.7,698.2 1425.8,705.6 1431.9,709.0 1438.0,705.7 1444.2,695.4 1450.3,678.1" fill="none" stroke="#ff0000" stroke-width="1.25"/>
<rect x="1" y="617.5" width="1715" height="75" fill="rgba(255,245,0,0.22)"/>
<path d="M1 617.5H1716M1 692.5H1716" stroke="#6b6b5c" stroke-width="1"/>
</g>
<path d="M1716.5 3V748M1 589.5H1783M1 719.5H1783" stroke="#50535e" stroke-width="1" fill="none"/>
<g clip-path="url(#cpa)">
<path d="M1716 12.5H1722M1716 57.5H1722M1716 103.5H1722M1716 149.5H1722M1716 194.5H1722M1716 240.5H1722M1716 286.5H1722M1716 331.5H1722M1716 377.5H1722M1716 468.5H1722M1716 559.5H1722" stroke="#50535e" stroke-width="1"/>
<text x="1727.5" y="17" font-size="13.5" fill="#565965">1.26500</text>
<text x="1727.5" y="62" font-size="13.5" fill="#565965">1.26000</text>
<text x="1727.5" y="108" font-size="13.5" fill="#565965">1.25500</text>
<text x="1727.5" y="154" font-size="13.5" fill="#565965">1.25000</text>
<text x="1727.5" y="199" font-size="13.5" fill="#565965">1.24500</text>
<text x="1727.5" y="245" font-size="13.5" fill="#565965">1.24000</text>
<text x="1727.5" y="291" font-size="13.5" fill="#565965">1.23500</text>
<text x="1727.5" y="336" font-size="13.5" fill="#565965">1.23000</text>
<text x="1727.5" y="382" font-size="13.5" fill="#565965">1.22500</text>
<text x="1727.5" y="473" font-size="13.5" fill="#565965">1.21500</text>
<text x="1727.5" y="564" font-size="13.5" fill="#565965">1.20500</text>
<rect x="1729" y="7" width="44" height="21" rx="3" fill="#eef2fa"/>
<text x="1739.7" y="22" font-size="13.5" fill="#2a2e39" textLength="23.3" lengthAdjust="spacingAndGlyphs">USD</text>
<rect x="1717" y="343" width="66" height="19" fill="#000"/>
<path d="M1716 352.5H1721" stroke="#fff" stroke-width="1"/>
<text x="1727.5" y="357" font-size="13" font-weight="bold" fill="#fff">1.22770</text>
<rect x="1717" y="413" width="66" height="19" fill="#000"/>
<path d="M1716 422.5H1721" stroke="#fff" stroke-width="1"/>
<text x="1727.5" y="427" font-size="13" font-weight="bold" fill="#fff">1.22003</text>
<rect x="1717" y="505" width="66" height="19" fill="#000"/>
<path d="M1716 514.5H1721" stroke="#fff" stroke-width="1"/>
<text x="1727.5" y="519" font-size="13" font-weight="bold" fill="#fff">1.21000</text>
</g>
<g clip-path="url(#cpi)">
<path d="M1716 617.5H1722M1716 667.5H1722M1716 717.5H1722" stroke="#50535e" stroke-width="1"/>
<text x="1727.5" y="622" font-size="13.5" fill="#565965">80.00</text>
<text x="1727.5" y="672" font-size="13.5" fill="#565965">40.00</text>
<text x="1727.5" y="722" font-size="13.5" fill="#565965">0.00</text>
</g>
<text x="72.5" y="743" font-size="13" text-anchor="middle" fill="#50535e">26</text>
<text x="213.6" y="743" font-size="13" text-anchor="middle" fill="#50535e" font-weight="bold">Apr</text>
<text x="323.6" y="743" font-size="13" text-anchor="middle" fill="#50535e">6</text>
<text x="506.6" y="743" font-size="13" text-anchor="middle" fill="#50535e">13</text>
<text x="690.6" y="743" font-size="13" text-anchor="middle" fill="#50535e">20</text>
<text x="875.0" y="743" font-size="13" text-anchor="middle" fill="#50535e">27</text>
<text x="1022.3" y="743" font-size="13" text-anchor="middle" fill="#50535e" font-weight="bold">May</text>
<text x="1132.1" y="743" font-size="13" text-anchor="middle" fill="#50535e">6</text>
<text x="1242.2" y="743" font-size="13" text-anchor="middle" fill="#50535e">11</text>
<text x="1426.3" y="743" font-size="13" text-anchor="middle" fill="#50535e">18</text>
<text x="1609.5" y="743" font-size="13" text-anchor="middle" fill="#50535e">25</text>
<path d="M72.5 720V724M213.5 720V724M323.5 720V724M506.5 720V724M690.5 720V724M875.5 720V724M1022.5 720V724M1132.5 720V724M1242.5 720V724M1426.5 720V724M1609.5 720V724" stroke="#50535e" stroke-width="1"/>
<circle cx="1751" cy="736" r="5.9" fill="none" stroke="#131722" stroke-width="1.4"/>
<path d="M1757.00 736.00L1759.40 736.00M1755.24 740.24L1756.94 741.94M1751.00 742.00L1751.00 744.40M1746.76 740.24L1745.06 741.94M1745.00 736.00L1742.60 736.00M1746.76 731.76L1745.06 730.06M1751.00 730.00L1751.00 727.60M1755.24 731.76L1756.94 730.06" stroke="#131722" stroke-width="1.8"/>
<circle cx="28" cy="20" r="11" fill="#e0f2f1"/>
<circle cx="28" cy="20" r="5.2" fill="#089981"/>
<text x="60.5" y="27" font-size="15.5" fill="#434651">O1.21646</text>
<text x="138" y="27" font-size="15.5" fill="#434651">H1.22083</text>
<text x="214.5" y="27" font-size="15.5" fill="#434651">L1.21623</text>
<text x="288.5" y="27" font-size="15.5" fill="#434651">C1.22003</text>
<rect x="0" y="0" width="1786" height="3" fill="#2196f3"/>
<rect x="0" y="0" width="1" height="748" fill="#2196f3"/>
<rect x="1783" y="0" width="3" height="748" fill="#2196f3"/>
</svg></body></html>
